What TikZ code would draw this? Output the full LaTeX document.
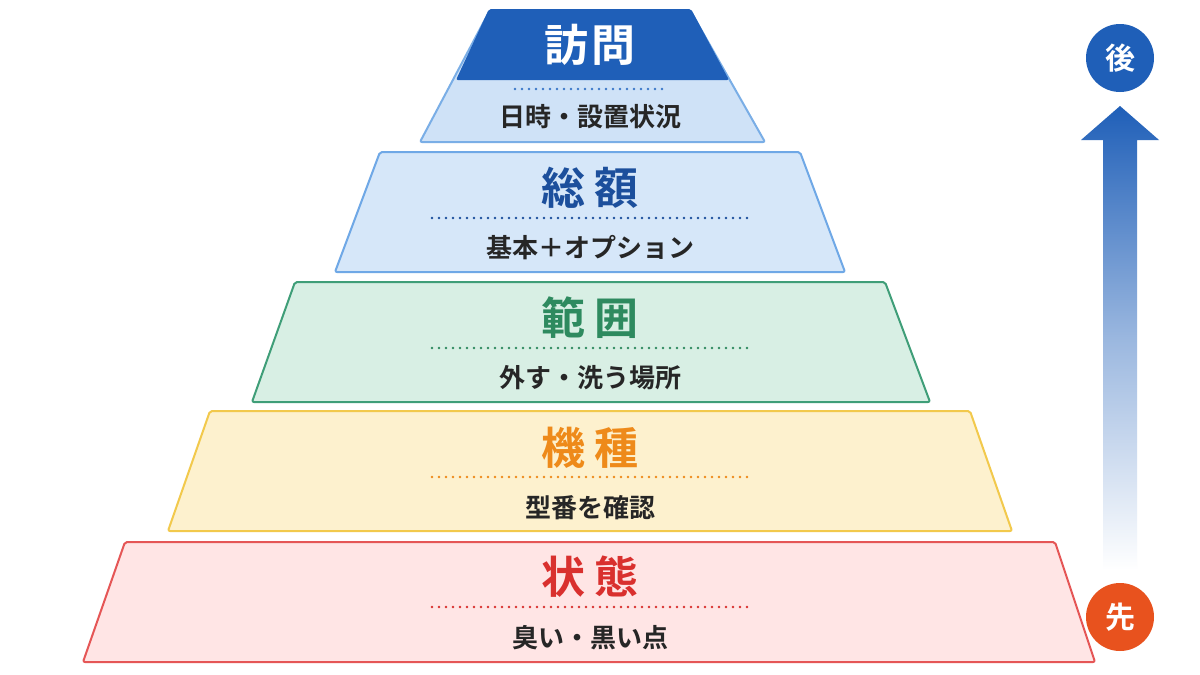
\documentclass[tikz,border=0pt]{standalone}
\usepackage{fontspec}
\newfontfamily\jp{Noto Sans CJK JP}[BoldFont={Noto Sans CJK JP Bold}]
\begin{document}
\begin{tikzpicture}[x=1pt,y=-1pt,
 layer/.style={line width=2pt,rounded corners=2pt},
 ttl/.style={font=\jp\bfseries\fontsize{44}{48}\selectfont},
 sub/.style={font=\jp\bfseries\fontsize{26}{30}\selectfont,text=black!85},
 dots/.style={line width=2.6pt,dash pattern=on 0pt off 7pt,line cap=round},
 circ/.style={circle,minimum size=68pt,inner sep=0pt,text=white,font=\jp\bfseries\fontsize{30}{34}\selectfont}]
\useasboundingbox[fill=white] (0,0) rectangle (1200,675);
\definecolor{dblue}{HTML}{1F5FB8}
% layer 1
\draw[layer,draw=red!50!pink!90!black,fill=red!10] (125,542)--(1055,542)--(1095,662)--(83,662)--cycle;
\node[ttl,text={rgb,255:red,217;green,48;blue,46}] (t5) at (590,577) {状\hspace{10pt}態};
\draw[dots,color={rgb,255:red,217;green,48;blue,46}] (432,607)--(750,607);
\node[sub] (s5) at (590,638) {臭い・黒い点};
% layer 2
\draw[layer,draw={rgb,255:red,242;green,201;blue,76},fill={rgb,255:red,253;green,241;blue,206}] (210,411)--(970,411)--(1012,531)--(168,531)--cycle;
\node[ttl,text={rgb,255:red,238;green,138;blue,26}] (t4) at (590,448) {機\hspace{10pt}種};
\draw[dots,color={rgb,255:red,238;green,138;blue,26}] (432,477)--(750,477);
\node[sub] (s4) at (590,508) {型番を確認};
% layer 3
\draw[layer,draw={rgb,255:red,63;green,158;blue,120},fill={rgb,255:red,216;green,239;blue,228}] (295,282)--(885,282)--(930,402)--(252,402)--cycle;
\node[ttl,text={rgb,255:red,46;green,138;blue,95}] (t3) at (590,318) {範\hspace{10pt}囲};
\draw[dots,color={rgb,255:red,46;green,138;blue,95}] (432,348)--(750,348);
\node[sub] (s3) at (590,378) {外す・洗う場所};
% layer 4
\draw[layer,draw={rgb,255:red,111;green,168;blue,230},fill={rgb,255:red,214;green,231;blue,249}] (380,152)--(800,152)--(845,272)--(335,272)--cycle;
\node[ttl,text={rgb,255:red,28;green,79;blue,156}] (t2) at (590,188) {総\hspace{10pt}額};
\draw[dots,color={rgb,255:red,28;green,79;blue,156}] (432,218)--(750,218);
\node[sub] (s2) at (590,248) {基本＋オプション};
% top
\draw[layer,draw={rgb,255:red,122;green,174;blue,230},fill={rgb,255:red,207;green,226;blue,247}] (490,10)--(690,10)--(765,142)--(420,142)--cycle;
\fill[dblue,rounded corners=2pt] (489,9)--(691,9)--(729,80)--(456,80)--cycle;
\node[ttl,text=white] (t1) at (590,45) {訪\hspace{4pt}問};
\draw[dots,color={rgb,255:red,60;green,120;blue,200}] (515,89)--(665,89);
\node[sub] (s1) at (590,117) {日時・設置状況};
% arrow
\shade[top color=dblue,bottom color=white,middle color=dblue!45] (1103,570)--(1103,140)--(1081,140)--(1120,106)--(1159,140)--(1137,140)--(1137,570)--cycle;
\node[circ,fill=dblue] (after) at (1120,58) {後};
\node[circ,fill={rgb,255:red,232;green,82;blue,30}] (before) at (1120,617) {先};
\end{tikzpicture}
\end{document}
